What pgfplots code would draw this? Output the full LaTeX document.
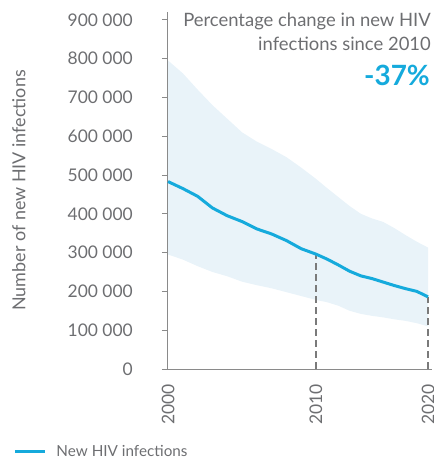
\documentclass[border=0pt]{standalone}
\usepackage{pgfplots}
\pgfplotsset{compat=1.18}
\usepackage{pgfplotstable}
\usepgfplotslibrary{fillbetween}
\usepackage{fontspec}
\setmainfont{Lato}
\definecolor{hivblue}{HTML}{15AADC}
\definecolor{bandblue}{HTML}{E9F3F9}
\definecolor{txtgray}{HTML}{6D6E71}
\definecolor{axgray}{HTML}{8A8A8A}
\definecolor{dashgray}{HTML}{7A7A7A}

% pos: horizontal position as drawn (2000 = 0, 2010 = 10, 2020 = 17.57)
\pgfplotstableread{
year pos   est    low    high
2000 0      483000 295000 795000
2001 1      465000 282000 762000
2002 2      445000 265000 720000
2003 3      415000 250000 680000
2004 4      395000 239000 645000
2005 5      380000 225000 610000
2006 6      361000 216000 586000
2007 7      348000 208000 567000
2008 8      331000 198000 546000
2009 9      310000 188000 519000
2010 10     296000 178000 490000
2011 10.757 283000 172000 466000
2012 11.514 268000 163000 443000
2013 12.271 252000 150000 420000
2014 13.028 240000 142000 400000
2015 13.785 233000 137000 388000
2016 14.542 224000 133000 379000
2017 15.299 215000 128000 363000
2018 16.056 207000 124000 345000
2019 16.813 200000 118000 328000
2020 17.57  186000 110000 313000
}\hivdata

\begin{document}
\begin{tikzpicture}
\begin{axis}[
  scale only axis,
  width=265bp, height=357bp,
  xmin=-0.07, xmax=17.84,
  ymin=0, ymax=920000,
  axis lines=left,
  axis line style={draw=axgray, line width=0.8pt, -},
  xtick={0,10,17.57},
  xticklabels={2000,2010,2020},
  xtick style={draw=none},
  ytick={0,100000,200000,300000,400000,500000,600000,700000,800000,900000},
  scaled y ticks=false,
  tick align=outside,
  major tick length=5bp,
  ytick style={draw=axgray, line width=0.8pt},
  /pgf/number format/fixed,
  /pgf/number format/precision=0,
  /pgf/number format/assume math mode=true,
  /pgf/number format/1000 sep={\ },
  yticklabel style={font=\fontsize{17.5}{19}\selectfont, text=txtgray, inner sep=0pt, xshift=-29bp},
  xticklabel style={font=\fontsize{17.5}{19}\selectfont, text=txtgray, rotate=90, anchor=east, inner sep=0pt, xshift=-10bp, overlay},
  ylabel={Number of new HIV infections},
  ylabel style={at={(axis description cs:-0.585,0.5)}, anchor=north, rotate=0, inner sep=0pt,
    font=\fontsize{18}{20}\selectfont, text=txtgray},
  legend style={at={(axis description cs:-0.58,-0.232)}, anchor=west, draw=none, fill=none,
    font=\fontsize{15.3}{17}\selectfont, text=txtgray, inner sep=0pt,
    nodes={inner xsep=10bp}},
  legend cell align=left,
  legend image code/.code={\draw[#1] (0bp,0bp) -- (30bp,0bp);},
  clip=false,
]
\addplot[name path=upper, draw=none, forget plot] table[x=pos, y=high] {\hivdata};
\addplot[name path=lower, draw=none, forget plot] table[x=pos, y=low] {\hivdata};
\addplot[fill=bandblue, draw=none, forget plot] fill between[of=upper and lower];
\addplot[dashgray, line width=2.5bp, dash pattern=on 7bp off 4bp, forget plot] coordinates {(10,0) (10,296000)};
\addplot[dashgray, line width=2.5bp, dash pattern=on 7bp off 4bp, forget plot] coordinates {(17.57,0) (17.57,186000)};
\addplot[hivblue, line width=3bp] table[x=pos, y=est] {\hivdata};
\addlegendentry{New HIV infections}
\node[anchor=north east, align=right, inner sep=0pt, text=txtgray, font=\fontsize{18.5}{23.5}\selectfont]
  at ([xshift=-1bp,yshift=-1bp]rel axis cs:1,1) {Percentage change in new HIV\\infections since 2010};
\node[anchor=base east, inner sep=0pt, text=hivblue, font=\fontsize{28}{30}\selectfont\bfseries]
  at ([xshift=-2bp,yshift=-74bp]rel axis cs:1,1) {-37\%};
\coordinate (bl) at (rel axis cs:0,0);
\coordinate (tr) at (rel axis cs:1,1);
\end{axis}
\path ([shift={(-167bp,-93bp)}]bl) rectangle ([shift={(2bp,12bp)}]tr);
\end{tikzpicture}
\end{document}
